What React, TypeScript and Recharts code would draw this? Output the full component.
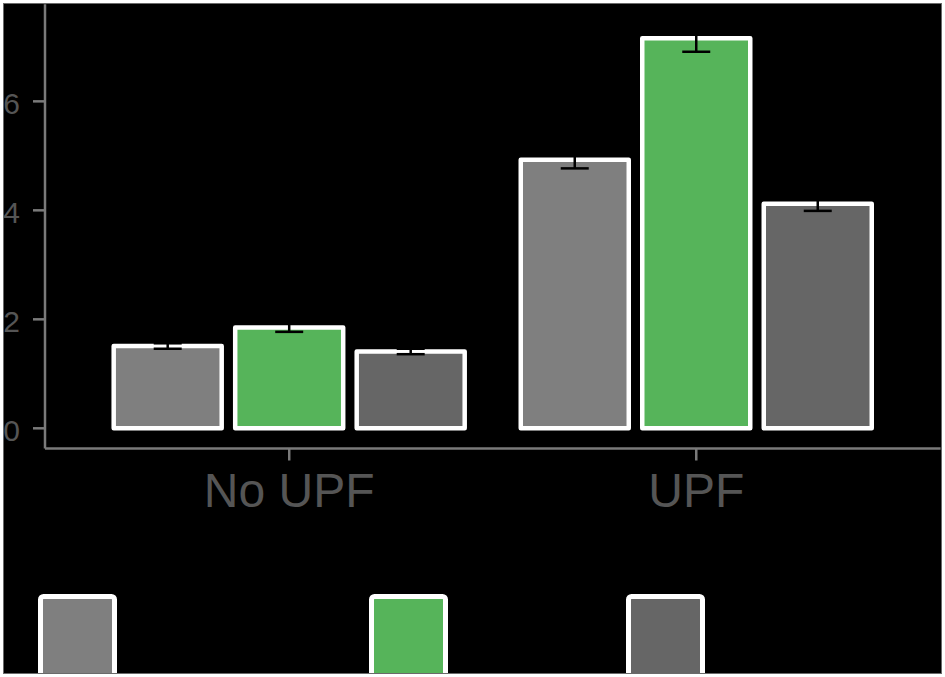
import React from 'react';
import { BarChart, Bar, XAxis, YAxis, ErrorBar, Legend } from 'recharts';

// ---- data ----
const categories = ['No UPF', 'UPF'];
const seriesA = [1.51, 4.93];
const seriesAErr = [0.05, 0.16];
const seriesB = [1.85, 7.16];
const seriesBErr = [0.08, 0.25];
const seriesC = [1.41, 4.12];
const seriesCErr = [0.05, 0.13];
const yTicks = [0, 2, 4, 6];

// ---- styling (not data) ----
const seriesStyles = [
  { key: 'a', errKey: 'aErr', color: '#7F7F7F' },
  { key: 'b', errKey: 'bErr', color: '#56B45A' },
  { key: 'c', errKey: 'cErr', color: '#666666' },
];
const legendAfterGap = [252, 178, 0];

const data = categories.map((c, i) => ({
  category: c,
  a: seriesA[i],
  aErr: seriesAErr[i],
  b: seriesB[i],
  bErr: seriesBErr[i],
  c: seriesC[i],
  cErr: seriesCErr[i],
}));

const FONT = '"Liberation Sans", Arial, Helvetica, sans-serif';
const AXIS_COLOR = '#7A7A7A';
const TEXT_COLOR = '#555555';

const XTick = (props: any) => {
  const { x, y, payload } = props;
  return (
    <text x={x} y={y + 46} textAnchor="middle" fill={TEXT_COLOR} fontSize={48} fontFamily={FONT}>
      {payload.value}
    </text>
  );
};

const YTick = (props: any) => {
  const { x, y, payload } = props;
  return (
    <text x={x} y={y + 12.7} textAnchor="end" fill={TEXT_COLOR} fontSize={30} fontFamily={FONT}>
      {payload.value}
    </text>
  );
};

const LegendContent = () => (
  <div style={{ display: 'flex', height: 79, paddingLeft: 38, margin: 0, boxSizing: 'border-box' }}>
    {seriesStyles.map((s, i) => (
      <div key={s.key} style={{ display: 'flex', marginRight: legendAfterGap[i] }}>
        <svg width={79} height={86} style={{ display: 'block', overflow: 'visible' }}>
          <rect x={2.5} y={2.5} width={74} height={80} rx={3} ry={3} fill={s.color} stroke="#FFFFFF" strokeWidth={5} />
        </svg>
      </div>
    ))}
  </div>
);

export default function App() {
  return (
    <div style={{ position: 'fixed', left: 0, top: 0, width: 945, height: 677, background: '#FFFFFF' }}>
      <div
        style={{
          position: 'absolute',
          left: 3,
          top: 3,
          width: 937,
          height: 669,
          border: '1px solid #6A6A6A',
          background: '#000000',
          overflow: 'hidden',
        }}
      >
        <div style={{ position: 'absolute', left: -4, top: -4 }}>
          <BarChart
            width={945}
            height={677}
            data={data}
            margin={{ top: 4.3, right: 4.4, bottom: 4, left: 0 }}
            barCategoryGap={28}
            barGap={13.5}
          >
            <XAxis
              dataKey="category"
              height={145.5}
              padding={{ left: 40.7, right: 40.8 }}
              axisLine={{ stroke: AXIS_COLOR, strokeWidth: 2.5 }}
              tickLine={{ stroke: AXIS_COLOR, strokeWidth: 2.5 }}
              tickSize={12}
              tickMargin={0}
              tick={<XTick />}
              interval={0}
            />
            <YAxis
              width={45}
              domain={[-0.3705, 7.781]}
              ticks={yTicks}
              allowDataOverflow
              axisLine={{ stroke: AXIS_COLOR, strokeWidth: 2.5 }}
              tickLine={{ stroke: AXIS_COLOR, strokeWidth: 2.5 }}
              tickSize={12}
              tickMargin={13}
              tick={<YTick />}
            />
            <Legend
              verticalAlign="bottom"
              align="left"
              content={<LegendContent />}
              wrapperStyle={{ margin: 0, padding: 0, lineHeight: 0 }}
            />
            {seriesStyles.map((s) => (
              <Bar
                key={s.key}
                dataKey={s.key}
                fill={s.color}
                stroke="#FFFFFF"
                strokeWidth={4.5}
                strokeLinejoin="round"
                isAnimationActive={false}
              >
                <ErrorBar dataKey={s.errKey} width={14} stroke="#000000" strokeWidth={2.5} direction="y" />
              </Bar>
            ))}
          </BarChart>
        </div>
      </div>
    </div>
  );
}
